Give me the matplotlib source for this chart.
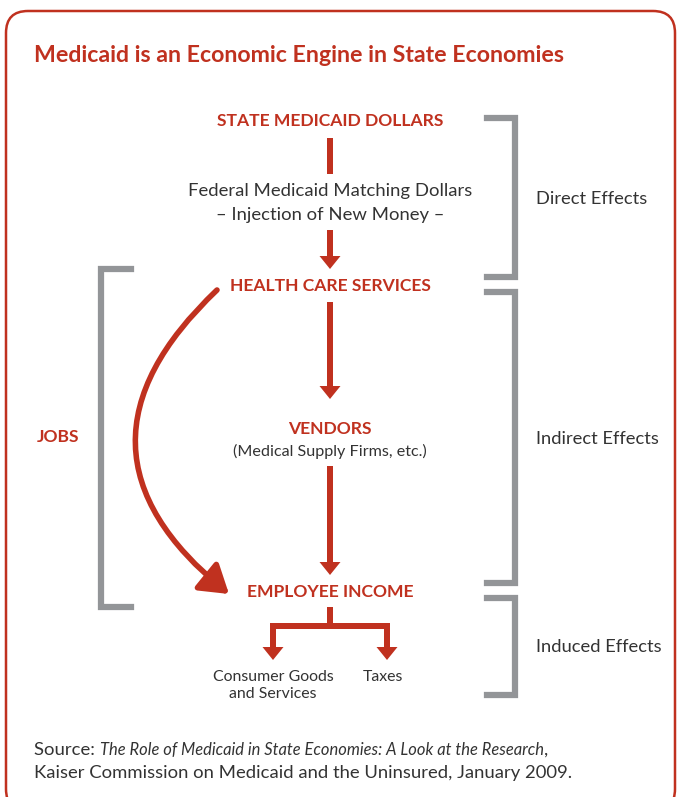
import matplotlib
matplotlib.use('Agg')
import matplotlib.pyplot as plt
from matplotlib.patches import FancyBboxPatch, FancyArrow

RED = '#c0311f'
GRAY = '#939598'
DARK = '#333333'

title = 'Medicaid is an Economic Engine in State Economies'
nodes = ['STATE MEDICAID DOLLARS', 'HEALTH CARE SERVICES', 'VENDORS', 'EMPLOYEE INCOME']
node_y = [121, 286, 429, 592]
federal_lines = ['Federal Medicaid Matching Dollars', '\u2013 Injection of New Money \u2013']
vendor_sub = '(Medical Supply Firms, etc.)'
outputs = ['Consumer Goods\nand Services', 'Taxes']
effects = ['Direct Effects', 'Indirect Effects', 'Induced Effects']
effect_spans = [(118, 277), (292, 583), (598, 695)]
source_plain = 'Source: '
source_italic = 'The Role of Medicaid in State Economies: A Look at the Research'
source_line2 = 'Kaiser Commission on Medicaid and the Uninsured, January 2009.'

BOLD = ['Lato', 'DejaVu Sans']
BODY = ['Lato', 'DejaVu Sans']

fig = plt.figure(figsize=(6.78, 7.97), dpi=100)
ax = fig.add_axes([0, 0, 1, 1])
ax.set_xlim(0, 678)
ax.set_ylim(797, 0)
ax.axis('off')

frame = FancyBboxPatch((6, 11), 669, 800, boxstyle='round,pad=0,rounding_size=22',
                       fc='white', ec=RED, lw=1.8)
ax.add_patch(frame)

ax.text(34, 55, title, color=RED, fontsize=16.7, fontweight='bold', family=BOLD,
        ha='left', va='center')

cx = 330
for lab, y in zip(nodes, node_y):
    ax.text(cx, y, lab, color=RED, fontsize=12.6, fontweight='bold', family=BOLD,
            ha='center', va='center')

ax.text(cx, 191, federal_lines[0], color=DARK, fontsize=13.3, family=BODY, ha='center', va='center')
ax.text(cx, 215, federal_lines[1], color=DARK, fontsize=13.3, family=BODY, ha='center', va='center')
ax.text(cx, 451, vendor_sub, color=DARK, fontsize=11.6, family=BODY, ha='center', va='center')

SW = 6    # shaft width in px
HW = 21   # head width
HL = 13   # head length

ax.add_patch(FancyArrow(cx, 138, 0, 36, width=SW, head_width=0, head_length=0,
                        lw=0, color=RED))

def down_arrow(x, y0, y1):
    ax.add_patch(FancyArrow(x, y0, 0, y1 - y0, width=SW, head_width=HW, head_length=HL,
                            length_includes_head=True, lw=0, color=RED))

down_arrow(cx, 230, 269)
down_arrow(cx, 302, 399)
down_arrow(cx, 466, 575)

# branch below employee income
bx = [273, 387]
ax.plot([cx, cx], [607, 626], color=RED, lw=SW * 0.72, solid_capstyle='butt')
ax.plot([bx[0] - SW / 2, bx[1] + SW / 2], [626, 626], color=RED, lw=SW * 0.72,
        solid_capstyle='butt')
for x in bx:
    down_arrow(x, 623, 660)
ax.text(bx[0], 685.5, outputs[0], color=DARK, fontsize=11.4, family=BODY, ha='center',
        va='center', linespacing=1.2)
ax.text(383, 677, outputs[1], color=DARK, fontsize=11.4, family=BODY, ha='center', va='center')

# curved jobs arrow
ax.annotate('', xy=(229, 594), xytext=(217, 290),
            arrowprops=dict(arrowstyle='-|>,head_length=0.7,head_width=0.45',
                            lw=4, color=RED, shrinkA=0, shrinkB=0, mutation_scale=24,
                            connectionstyle='arc3,rad=0.57'))
ax.text(58, 437, 'JOBS', color=RED, fontsize=12.6, fontweight='bold', family=BOLD,
        ha='center', va='center')

# brackets
ax.plot([131, 101, 101, 131], [269, 269, 607, 607], color=GRAY, lw=4.5,
        solid_joinstyle='miter')
for (y0, y1), lab in zip(effect_spans, effects):
    ax.plot([487, 515, 515, 487], [y0, y0, y1, y1], color=GRAY, lw=4.5,
            solid_joinstyle='miter')
    ax.text(536, (y0 + y1) / 2 + 1, lab, color=DARK, fontsize=13.2, family=BODY,
            ha='left', va='center')

# source (italic title squeezed so the comma lands where the reference has it)
fig.canvas.draw()
r = fig.canvas.get_renderer()
t1 = ax.text(34, 750, source_plain, color=DARK, fontsize=13.3, family=BODY, ha='left', va='center')
w1 = t1.get_window_extent(r).width
t2 = ax.text(34 + w1, 750, source_italic, color=DARK, fontsize=13.3, family=BODY,
             style='italic', ha='left', va='center')
w2 = t2.get_window_extent(r).width
target = 545 - 34 - w1
t2.set_fontsize(13.3 * target / w2)
w2 = t2.get_window_extent(r).width
ax.text(34 + w1 + w2, 750, ',', color=DARK, fontsize=13.3, family=BODY, ha='left', va='center')
ax.text(34, 773, source_line2, color=DARK, fontsize=13.3, family=BODY, ha='left', va='center')

fig.savefig('out.png', dpi=100)
